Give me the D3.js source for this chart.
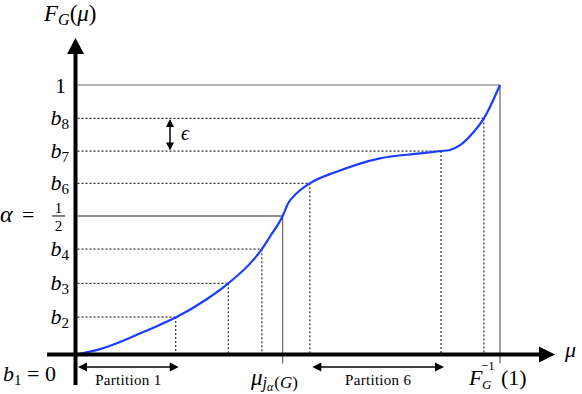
<!DOCTYPE html>
<html>
<head>
<meta charset="utf-8">
<script src="https://cdn.jsdelivr.net/npm/d3@7"></script>
<style>
  body { margin: 0; background: #fff; }
</style>
</head>
<body>
<div id="wrapper"></div>
<script>
// 1. Data
const curveMu = [0, 0.058, 0.175, 0.236, 0.309, 0.360, 0.419, 0.439, 0.458, 0.488, 0.501, 0.521, 0.552, 0.615, 0.717, 0.812, 0.861, 0.882, 0.906, 0.936, 0.962, 1.0]
const curveF  = [0, 0.020, 0.094, 0.137, 0.205, 0.264, 0.351, 0.391, 0.437, 0.514, 0.561, 0.598, 0.635, 0.678, 0.728, 0.746, 0.755, 0.759, 0.777, 0.822, 0.876, 1.0]

// partition bounds b1..b8, then 1 ; alpha = 1/2 is b5
const levelNames = ["b1", "b2", "b3", "b4", "alpha", "b6", "b7", "b8", "one"]
const levelF  = [0, 0.139, 0.264, 0.391, 0.514, 0.635, 0.755, 0.876, 1.0]
const levelMu = [0, 0.236, 0.360, 0.439, 0.488, 0.552, 0.861, 0.962, 1.0]

// 2. Dimensions
const width = 582
const height = 394
const serif = "'Liberation Serif', 'DejaVu Serif', 'Times New Roman', serif"

const svg = d3.select("#wrapper")
    .append("svg")
    .attr("width", width)
    .attr("height", height)
    .attr("font-family", serif)

// 3. Scales
const xScale = d3.scaleLinear().domain([0, 1]).range([75.5, 500])
const yScale = d3.scaleLinear().domain([0, 1]).range([354.5, 85])

const x0 = xScale(0)
const y0 = yScale(0)

// helper so every text gets the serif face
const txt = (x, y, size) => svg.append("text")
    .attr("x", x).attr("y", y)
    .style("font-family", serif)
    .style("font-size", size + "px")

// 4. Guide lines
const guides = svg.append("g")
levelNames.forEach((name, i) => {
    if (i === 0) return
    const solid = (name === "alpha" || name === "one")
    const stroke = solid ? (name === "alpha" ? "#222" : "#666") : "#333"
    const dash = solid ? null : "2,2"
    guides.append("line")
        .attr("x1", x0 + 2).attr("x2", xScale(levelMu[i]))
        .attr("y1", yScale(levelF[i])).attr("y2", yScale(levelF[i]))
        .attr("stroke", stroke).attr("stroke-width", 1.2)
        .attr("stroke-dasharray", dash)
    guides.append("line")
        .attr("x1", xScale(levelMu[i])).attr("x2", xScale(levelMu[i]))
        .attr("y1", yScale(levelF[i])).attr("y2", solid ? y0 + 9 : y0)
        .attr("stroke", solid ? "#666" : "#333").attr("stroke-width", 1.2)
        .attr("stroke-dasharray", dash)
})

// 5. Curve
const line = d3.line()
    .x((d, i) => xScale(curveMu[i]))
    .y((d, i) => yScale(curveF[i]))
    .curve(d3.curveMonotoneX)

svg.append("path")
    .datum(curveMu)
    .attr("d", line)
    .attr("fill", "none")
    .attr("stroke", "#1a3dff")
    .attr("stroke-width", 2.2)

// 6. Axes with arrow heads
svg.append("line")
    .attr("x1", x0).attr("x2", x0)
    .attr("y1", 385).attr("y2", 50)
    .attr("stroke", "#000").attr("stroke-width", 4)
svg.append("path")
    .attr("d", `M${x0},38 L${x0 - 8.5},54 L${x0 + 8.5},54 Z`)
    .attr("fill", "#000")

svg.append("line")
    .attr("x1", 47).attr("x2", 545)
    .attr("y1", y0).attr("y2", y0)
    .attr("stroke", "#000").attr("stroke-width", 4)
svg.append("path")
    .attr("d", `M555,${y0} L539,${y0 - 8} L539,${y0 + 8} Z`)
    .attr("fill", "#000")

// axis titles
const yTitle = txt(44, 21, 23)
yTitle.append("tspan").style("font-style", "italic").text("F")
yTitle.append("tspan").style("font-style", "italic").style("font-size", "16px").attr("dy", 4).text("G")
yTitle.append("tspan").attr("dy", -4).text("(")
yTitle.append("tspan").style("font-style", "italic").text("μ")
yTitle.append("tspan").text(")")

txt(565, 357, 22).style("font-style", "italic").text("μ")

// y tick labels
levelNames.forEach((name, i) => {
    const y = yScale(levelF[i])
    if (name === "one") {
        txt(66, y + 7.5, 22).attr("text-anchor", "end").text("1")
    } else if (name === "alpha") {
        txt(0, y + 6, 24).style("font-style", "italic").text("α")
        txt(22, y + 6, 22).text("=")
        txt(58.5, y - 3, 15).attr("text-anchor", "middle").text("1")
        txt(58.5, y + 15, 15).attr("text-anchor", "middle").text("2")
        svg.append("line")
            .attr("x1", 52).attr("x2", 65)
            .attr("y1", y).attr("y2", y)
            .attr("stroke", "#000").attr("stroke-width", 1)
    } else if (i === 0) {
        const t = txt(3, 381, 22)
        t.append("tspan").style("font-style", "italic").text("b")
        t.append("tspan").style("font-size", "15px").attr("dy", 4).text("1")
        t.append("tspan").attr("dy", -4).text(" = 0")
    } else {
        const t = txt(69, y + 7, 22).attr("text-anchor", "end")
        t.append("tspan").style("font-style", "italic").text("b")
        t.append("tspan").style("font-size", "15px").attr("dy", 4).text(name.slice(1))
    }
})

// x labels
const muLab = txt(251, 385, 23)
muLab.append("tspan").style("font-style", "italic").text("μ")
muLab.append("tspan").style("font-style", "italic").style("font-size", "16px").attr("dy", 3).text("j")
muLab.append("tspan").style("font-style", "italic").style("font-size", "12px").attr("dy", 3).text("α")
muLab.append("tspan").style("font-size", "17px").attr("dy", -3).attr("dx", 1).text("(")
muLab.append("tspan").style("font-style", "italic").style("font-size", "17px").text("G")
muLab.append("tspan").style("font-size", "17px").text(")")

txt(469, 385, 22).style("font-style", "italic").text("F")
txt(482, 389, 13).style("font-style", "italic").text("G")
txt(481, 370, 13).text("−1")
txt(501, 385, 22).text("(1)")

// 7. Annotations: epsilon and partitions
const arrowHead = (x, y, dir, size) => {
    const s = size
    let d
    if (dir === "up") d = `M${x},${y} L${x - s / 2},${y + s} L${x + s / 2},${y + s} Z`
    if (dir === "down") d = `M${x},${y} L${x - s / 2},${y - s} L${x + s / 2},${y - s} Z`
    if (dir === "left") d = `M${x},${y} L${x + s},${y - s / 2} L${x + s},${y + s / 2} Z`
    if (dir === "right") d = `M${x},${y} L${x - s},${y - s / 2} L${x - s},${y + s / 2} Z`
    svg.append("path").attr("d", d).attr("fill", "#000")
}

const epsX = 170
svg.append("line")
    .attr("x1", epsX).attr("x2", epsX)
    .attr("y1", yScale(levelF[7]) + 4).attr("y2", yScale(levelF[6]) - 4)
    .attr("stroke", "#000").attr("stroke-width", 1.5)
arrowHead(epsX, yScale(levelF[7]) + 0.5, "up", 8)
arrowHead(epsX, yScale(levelF[6]) - 0.5, "down", 8)
txt(181, 140, 20).style("font-style", "italic").text("ϵ")

const partitions = [
    { label: "Partition 1", from: 0, to: 1 },
    { label: "Partition 6", from: 5, to: 6 },
]
partitions.forEach(p => {
    const xa = xScale(levelMu[p.from]) + 2.5
    const xb = xScale(levelMu[p.to]) + 3
    const ya = 367
    svg.append("line")
        .attr("x1", xa + 6).attr("x2", xb - 6)
        .attr("y1", ya).attr("y2", ya)
        .attr("stroke", "#000").attr("stroke-width", 1.5)
    arrowHead(xa, ya, "left", 9)
    arrowHead(xb, ya, "right", 9)
    txt((xa + xb) / 2, 385, 15)
        .attr("text-anchor", "middle")
        .style("letter-spacing", "0.3px")
        .text(p.label)
})
</script>
</body>
</html>
